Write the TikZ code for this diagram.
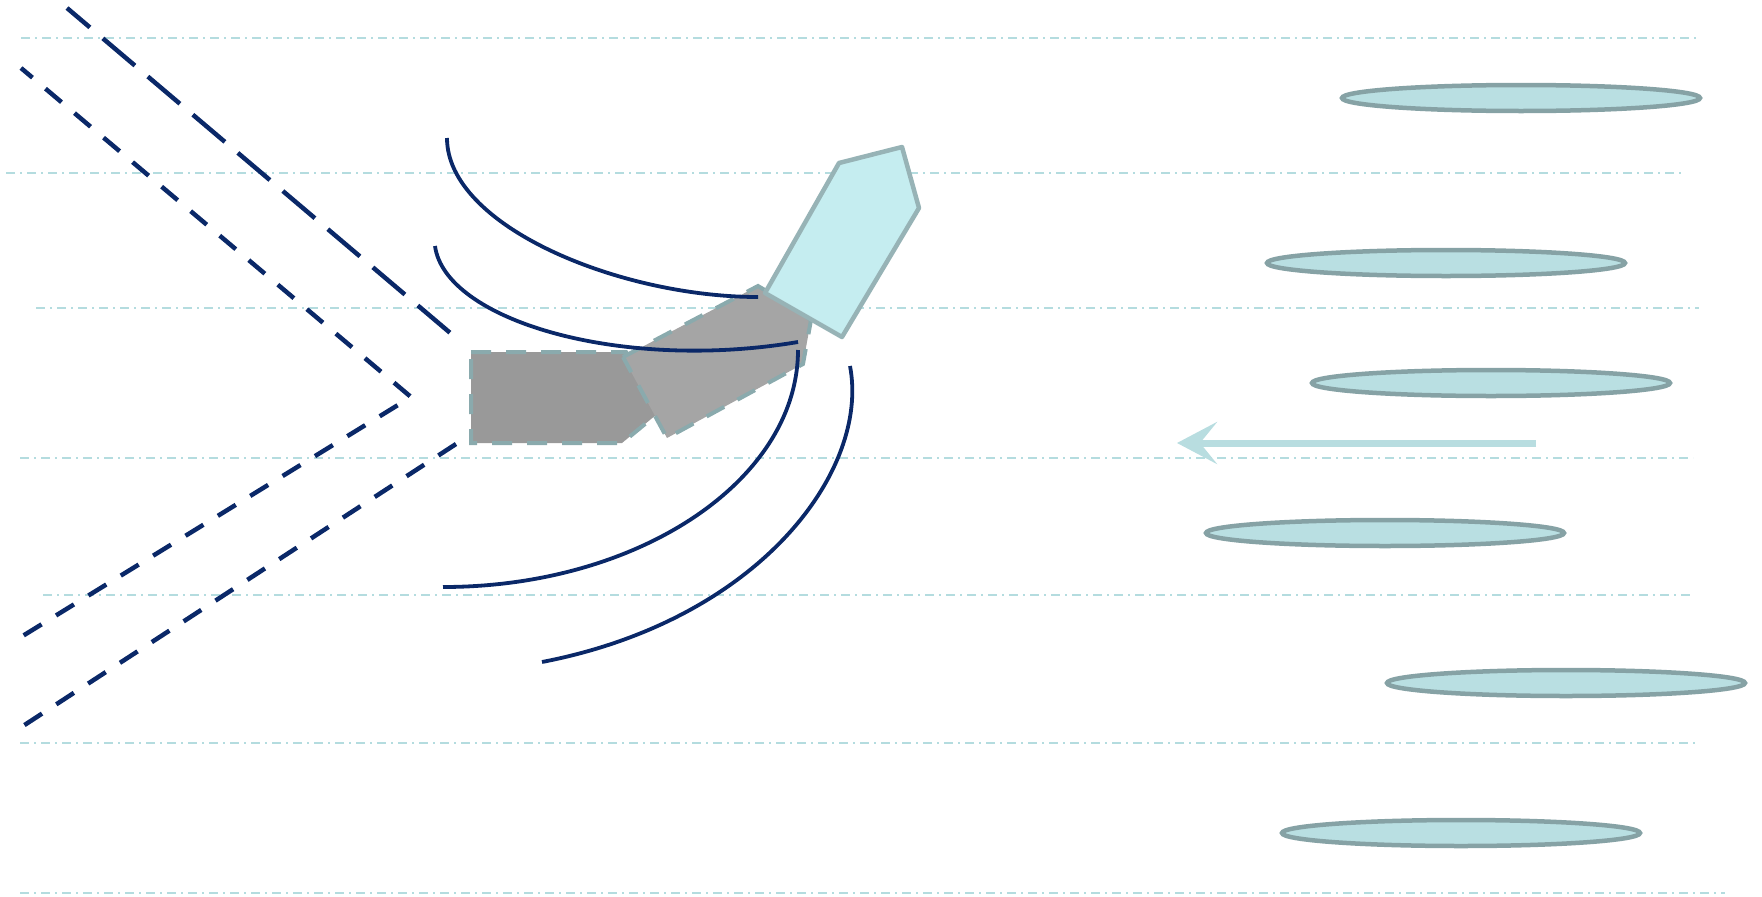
\documentclass[tikz,border=0pt]{standalone}
\usetikzlibrary{arrows.meta}
\definecolor{navy}{HTML}{0A2868}
\definecolor{guide}{HTML}{B4DCDF}
\definecolor{lensfill}{HTML}{B9DFE2}
\definecolor{lensedge}{HTML}{86A2A5}
\definecolor{rectedge}{HTML}{8AAAAD}
\definecolor{grayA}{HTML}{999999}
\definecolor{grayB}{HTML}{A5A5A5}
\definecolor{tipfill}{HTML}{C5EDF0}
\definecolor{tipedge}{HTML}{97B3B6}
\definecolor{arrowcol}{HTML}{B8DDE0}
\tikzset{
  guideline/.style={guide, line width=2.2pt, dash pattern=on 9pt off 5pt on 2pt off 5pt},
  lens/.style={draw=lensedge, fill=lensfill, line width=4.5pt},
  wave/.style={navy, line width=3.8pt},
  longdash/.style={navy, line width=4.5pt, dash pattern=on 42pt off 17pt},
  shortdash/.style={navy, line width=4.5pt, dash pattern=on 21pt off 17pt},
  blockedge/.style={draw=rectedge, line width=4pt, dash pattern=on 20pt off 15pt},
}
\begin{document}
\begin{tikzpicture}[x=1pt,y=-1pt]
\useasboundingbox (0,0) rectangle (1762,897);
% guide lines
\draw[guideline] (21,38) -- (1697,38);
\draw[guideline] (6,173) -- (1682,173);
\draw[guideline] (36,308) -- (1699,308);
\draw[guideline] (20,458) -- (1693,458);
\draw[guideline] (43,595) -- (1693,595);
\draw[guideline] (20,743) -- (1697,743);
\draw[guideline] (20,893) -- (1725,893);
% lenses
\draw[lens] (1521,98) ellipse [x radius=179, y radius=13];
\draw[lens] (1446,263) ellipse [x radius=179, y radius=13];
\draw[lens] (1491,383) ellipse [x radius=179, y radius=13];
\draw[lens] (1385,533) ellipse [x radius=179, y radius=13];
\draw[lens] (1566,683) ellipse [x radius=179, y radius=13];
\draw[lens] (1461,833) ellipse [x radius=179, y radius=13];
% arrow
\coordinate (arrS) at (1536,443);
\coordinate (arrE) at (1177,443);
\draw[arrowcol, line width=7pt, -{Stealth[length=40pt,width=42pt,inset=17pt]}] (arrS) -- (arrE);
% dashed V lines
\draw[longdash, dash phase=12pt] (67,8) -- (455,337);
\draw[shortdash, dash phase=6pt] (21,68) -- (411,397) -- (21,637);
\draw[shortdash] (456,444) -- (23,726);
% blocks
\draw[blockedge, fill=grayA] (471,352) -- (626,352) -- (662,410) -- (622,443) -- (471,443) -- cycle;
\draw[blockedge, fill=grayB] (623,357) -- (758,286) -- (790,305) -- (811,320) -- (803,364) -- (667,438) -- cycle;
\draw[draw=tipedge, fill=tipfill, line width=4.5pt, line join=round]
  (765,293) -- (839,163) -- (902,147) -- (919,208) -- (842,337) -- cycle;
% waves
\draw[wave] (447,138) .. controls (447,226) and (619,297) .. (758,297);
\draw[wave] (435,246) .. controls (445,320) and (620,372) .. (798,342);
\draw[wave] (798,350) .. controls (798,480) and (639,587) .. (443,587);
\draw[wave] (850,366) .. controls (870,470) and (760,620) .. (542,662);
\end{tikzpicture}
\end{document}
